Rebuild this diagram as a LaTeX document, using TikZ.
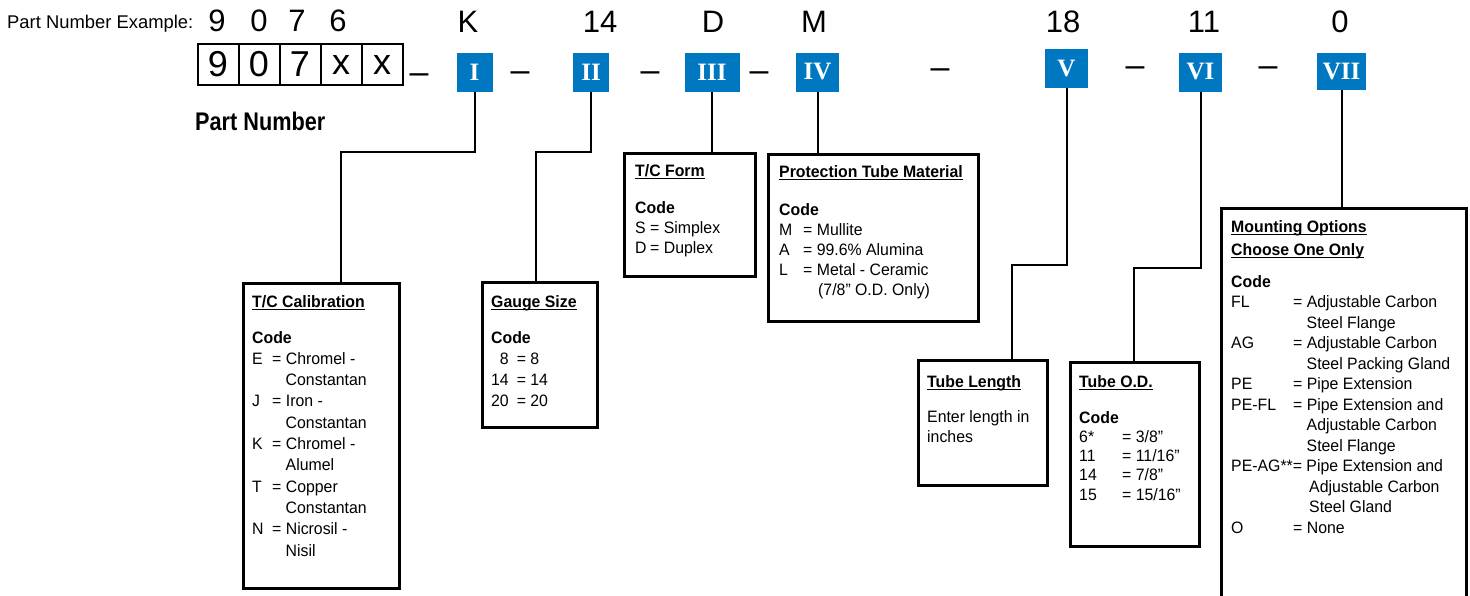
\documentclass[tikz,border=0pt]{standalone}
\usepackage{fontspec}
\setmainfont{Liberation Sans}
\newfontfamily\condfont[FakeStretch=0.96]{Liberation Sans}
\newfontfamily\pnfont[FakeStretch=0.85]{Liberation Sans}
\newfontfamily\romfont{Liberation Serif}
\definecolor{pnblue}{RGB}{0,120,193}
\newsavebox\ulbox
\newcommand\ul[1]{\sbox\ulbox{#1}\rlap{\rule[-3pt]{\wd\ulbox}{1.3pt}}\usebox\ulbox}
\newcommand\kv[2]{\makebox[#1][l]{#2}}
\newcommand\kr[2]{\makebox[#1][r]{#2}}
\begin{document}
\begin{tikzpicture}[x=1pt,y=-1pt,
 infobox/.style={draw, line width=2.5pt, anchor=north west, inner sep=0pt},
 boxtext/.style={font=\condfont\fontsize{16.5}{#1}\selectfont, anchor=base west, inner sep=0pt},
 bignum/.style={font=\fontsize{31}{34}\selectfont, anchor=base, inner sep=0pt},
 digitbox/.style={draw, line width=2pt, minimum width=41pt, minimum height=41pt, inner sep=0pt, font=\fontsize{36}{40}\selectfont},
 pnbox/.style={fill=pnblue, text=white, inner sep=0pt, font=\romfont\bfseries\fontsize{25}{28}\selectfont},
 sepdash/.style={font=\fontsize{34}{36}\selectfont, anchor=base, inner sep=0pt},
 conn/.style={draw, line width=2pt}
]
\useasboundingbox (0,0) rectangle (1470,595);

% header
\node[font=\fontsize{18.4}{20}\selectfont, anchor=base west, inner sep=0pt] (pne) at (7,28) {Part Number Example:};
\node[bignum] (t1) at (217,31) {9};
\node[bignum] (t2) at (259,31) {0};
\node[bignum] (t3) at (297,31) {7};
\node[bignum] (t4) at (338,31) {6};
\node[bignum] (t5) at (468,32) {K};
\node[bignum] (t6) at (600,32) {14};
\node[bignum] (t7) at (713,32) {D};
\node[bignum] (t8) at (814,32) {M};
\node[bignum] (t9) at (1063,32) {18};
\node[bignum] (t10) at (1204,32) {11};
\node[bignum] (t11) at (1340,32) {0};

% part number digit boxes
\node[digitbox] (p1) at (218,64.5) {9};
\node[digitbox] (p2) at (259,64.5) {0};
\node[digitbox] (p3) at (300,64.5) {7};
\node[digitbox] (p4) at (341,64.5) {x};
\node[digitbox] (p5) at (382,64.5) {x};
\node[font=\pnfont\bfseries\fontsize{25.5}{28}\selectfont, anchor=base west, inner sep=0pt] (pnlabel) at (195,130) {Part Number};

% dashes
\node[sepdash] (d0) at (419,83) {–};
\node[sepdash] (d1) at (520,81) {–};
\node[sepdash] (d2) at (650,81) {–};
\node[sepdash] (d3) at (759,81) {–};
\node[sepdash] (d4) at (940,78) {–};
\node[sepdash] (d5) at (1135,76) {–};
\node[sepdash] (d6) at (1268,76) {–};

% blue code boxes
\node[pnbox, minimum width=36pt, minimum height=39pt] (b1) at (474.5,72) {I};
\node[pnbox, minimum width=36pt, minimum height=39pt] (b2) at (591,72) {II};
\node[pnbox, minimum width=55pt, minimum height=39pt] (b3) at (712,72) {III};
\node[pnbox, minimum width=43pt, minimum height=39pt] (b4) at (817.5,72) {IV};
\node[pnbox, minimum width=43pt, minimum height=39pt] (b5) at (1066.5,68.5) {V};
\node[pnbox, minimum width=43pt, minimum height=39pt] (b6) at (1200.5,72) {VI};
\node[pnbox, minimum width=49pt, minimum height=37pt] (b7) at (1341.5,71.5) {VII};

% info boxes
\node[infobox, minimum width=156pt, minimum height=305pt] (cal) at (242,282) {};
\node[infobox, minimum width=115pt, minimum height=145pt] (gauge) at (481,281) {};
\node[infobox, minimum width=131pt, minimum height=123pt] (form) at (623,152) {};
\node[infobox, minimum width=210pt, minimum height=167pt] (prot) at (767,153) {};
\node[infobox, minimum width=129pt, minimum height=125pt] (length) at (917,359) {};
\node[infobox, minimum width=129pt, minimum height=184pt] (od) at (1069,361) {};
\node[infobox, minimum width=245pt, minimum height=400pt] (mount) at (1220,207) {};

% box texts
\node[boxtext=21.3] (caltext) at (252,307) {\begin{tabular}[t]{@{}l@{}}
\ul{\textbf{T/C Calibration}}\\[14.7pt]
\textbf{Code}\\
\kv{20pt}{E}= Chromel -\\
\hspace*{33.5pt}Constantan\\
\kv{20pt}{J}= Iron -\\
\hspace*{33.5pt}Constantan\\
\kv{20pt}{K}= Chromel -\\
\hspace*{33.5pt}Alumel\\
\kv{20pt}{T}= Copper\\
\hspace*{33.5pt}Constantan\\
\kv{20pt}{N}= Nicrosil -\\
\hspace*{33.5pt}Nisil
\end{tabular}};

\node[boxtext=21.3] (gaugetext) at (491,307) {\begin{tabular}[t]{@{}l@{}}
\ul{\textbf{Gauge Size}}\\[14.7pt]
\textbf{Code}\\
\kr{17.6pt}{8}\hspace{8pt}= 8\\
\kr{17.6pt}{14}\hspace{8pt}= 14\\
\kr{17.6pt}{20}\hspace{8pt}= 20
\end{tabular}};

\node[boxtext=20] (formtext) at (635,176) {\begin{tabular}[t]{@{}l@{}}
\ul{\textbf{T/C Form}}\\[17pt]
\textbf{Code}\\
\kv{15pt}{S}= Simplex\\
\kv{15pt}{D}= Duplex
\end{tabular}};

\node[boxtext=20] (prottext) at (779,177) {\begin{tabular}[t]{@{}l@{}}
\ul{\textbf{Protection Tube Material}}\\[18pt]
\textbf{Code}\\
\kv{24pt}{M}= Mullite\\
\kv{24pt}{A}= 99.6\% Alumina\\
\kv{24pt}{L}= Metal - Ceramic\\
\hspace*{39pt}(7/8” O.D. Only)
\end{tabular}};

\node[boxtext=20] (lengthtext) at (927,387) {\begin{tabular}[t]{@{}l@{}}
\ul{\textbf{Tube Length}}\\[15pt]
Enter length in\\
inches
\end{tabular}};

\node[boxtext=19.3] (odtext) at (1079,387) {\begin{tabular}[t]{@{}l@{}}
\ul{\textbf{Tube O.D.}}\\[16.7pt]
\textbf{Code}\\
\kv{43pt}{6*}= 3/8”\\
\kv{43pt}{11}= 11/16”\\
\kv{43pt}{14}= 7/8”\\
\kv{43pt}{15}= 15/16”
\end{tabular}};

\node[boxtext=20.5] (mounttext) at (1231,232) {\begin{tabular}[t]{@{}l@{}}
\ul{\textbf{Mounting Options}}\\[2.5pt]
\ul{\textbf{Choose One Only}}\\[11.5pt]
\textbf{Code}\\
\kv{62pt}{FL}= Adjustable Carbon\\
\hspace*{75.5pt}Steel Flange\\
\kv{62pt}{AG}= Adjustable Carbon\\
\hspace*{75.5pt}Steel Packing Gland\\
\kv{62pt}{PE}= Pipe Extension\\
\kv{62pt}{PE-FL}= Pipe Extension and\\
\hspace*{75.5pt}Adjustable Carbon\\
\hspace*{75.5pt}Steel Flange\\
PE-AG**= Pipe Extension and\\
\hspace*{78pt}Adjustable Carbon\\
\hspace*{78pt}Steel Gland\\
\kv{62pt}{O}= None
\end{tabular}};

% connectors
\coordinate (k1) at (341,152);
\coordinate (k2) at (536,152);
\coordinate (k5) at (1012,265);
\coordinate (k6) at (1134,268);
\draw[conn] (b1.south) |- (k1) -- (k1 |- cal.north);
\draw[conn] (b2.south) |- (k2) -- (k2 |- gauge.north);
\draw[conn] (b3.south) -- (b3.south |- form.north);
\draw[conn] (b4.south) -- (b4.south |- prot.north);
\draw[conn] (b5.south) |- (k5) -- (k5 |- length.north);
\draw[conn] (b6.south) |- (k6) -- (k6 |- od.north);
\draw[conn] (b7.south) -- (b7.south |- mount.north);
\end{tikzpicture}
\end{document}
